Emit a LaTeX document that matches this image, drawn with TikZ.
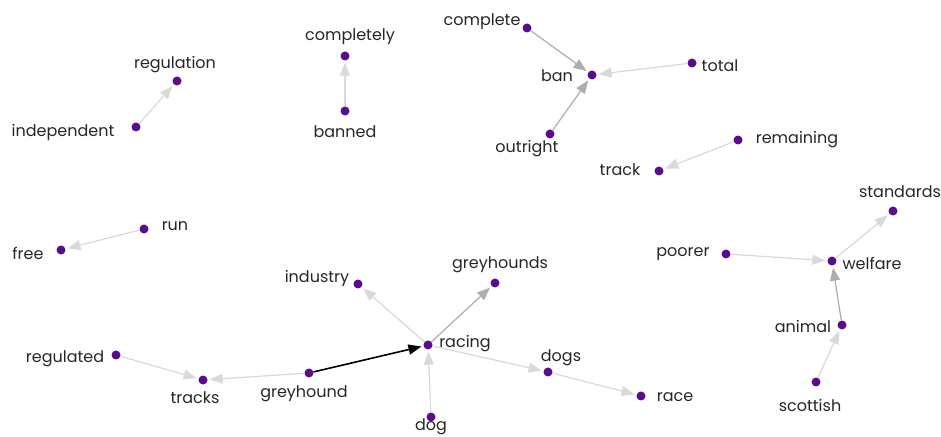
\documentclass[tikz,border=0pt]{standalone}
\usepackage{fontspec}
\setmainfont{Poppins}
\usepackage{tikz}
\usetikzlibrary{arrows.meta}
\definecolor{dotpurple}{HTML}{5A0C8A}

\begin{document}
\begin{tikzpicture}
  [
    x = 1bp, y = -1bp,
    dot/.style = {circle, fill = dotpurple, inner sep = 0pt, minimum size = 9bp},
    word/.style = {inner sep = 0pt, yshift = -2bp, font = \fontsize{16bp}{18bp}\selectfont, text = black!85},
    edge/.style = {-{Triangle[length = 13bp, width = 10bp]}, line width = 1.2bp, shorten > = 2bp},
    faint/.style = {edge, draw = black!15, fill = black!15},
    mid/.style = {edge, draw = black!32, fill = black!32},
    strong/.style = {edge, draw = black, line width = 1.6bp}
  ]
  \useasboundingbox (0,0) rectangle (941,437);
  % words: dot first, then its text
  \node[dot] (regulation) at (177,81) {};   \node[word] (regulationT) at (175,63) {regulation};
  \node[dot] (independent) at (136,127) {}; \node[word] (independentT) at (63,130) {independent};
  \node[dot] (completely) at (345,56) {};   \node[word] (completelyT) at (350,35) {completely};
  \node[dot] (banned) at (345,111) {};      \node[word] (bannedT) at (345,130) {banned};
  \node[dot] (complete) at (527,28) {};     \node[word] (completeT) at (482,20) {complete};
  \node[dot] (ban) at (592,75) {};          \node[word] (banT) at (557,74) {ban};
  \node[dot] (total) at (692,63) {};        \node[word] (totalT) at (720,64) {total};
  \node[dot] (outright) at (550,134) {};    \node[word] (outrightT) at (527,147) {outright};
  \node[dot] (remaining) at (738,140) {};   \node[word] (remainingT) at (797,138) {remaining};
  \node[dot] (track) at (659,171) {};       \node[word] (trackT) at (620,168) {track};
  \node[dot] (standards) at (893,211) {};   \node[word] (standardsT) at (900,190) {standards};
  \node[dot] (run) at (144,229) {};         \node[word] (runT) at (175,224) {run};
  \node[dot] (free) at (61,250) {};         \node[word] (freeT) at (28,251) {free};
  \node[dot] (industry) at (358,284) {};    \node[word] (industryT) at (317,276) {industry};
  \node[dot] (greyhounds) at (495,283) {};  \node[word] (greyhoundsT) at (500,263) {greyhounds};
  \node[dot] (poorer) at (726,254) {};      \node[word] (poorerT) at (683,252) {poorer};
  \node[dot] (welfare) at (832,261) {};     \node[word] (welfareT) at (872,261) {welfare};
  \node[dot] (racing) at (428,345) {};      \node[word] (racingT) at (465,342) {racing};
  \node[dot] (regulated) at (116,355) {};   \node[word] (regulatedT) at (65,357) {regulated};
  \node[dot] (tracks) at (203,380) {};      \node[word] (tracksT) at (195,396) {tracks};
  \node[dot] (greyhound) at (309,373) {};   \node[word] (greyhoundT) at (304,392) {greyhound};
  \node[dot] (dogs) at (548,372) {};        \node[word] (dogsT) at (561,356) {dogs};
  \node[dot] (race) at (641,396) {};        \node[word] (raceT) at (675,395) {race};
  \node[dot] (dog) at (431,417) {};         \node[word] (dogT) at (431,425) {dog};
  \node[dot] (animal) at (842,325) {};      \node[word] (animalT) at (803,324) {animal};
  \node[dot] (scottish) at (816,382) {};    \node[word] (scottishT) at (810,403) {scottish};
  % bigram links
  \draw[faint] (independent) -- (regulation);
  \draw[faint] (banned) -- (completely);
  \draw[mid] (complete) -- (ban);
  \draw[faint] (total) -- (ban);
  \draw[mid] (outright) -- (ban);
  \draw[faint] (remaining) -- (track);
  \draw[faint] (run) -- (free);
  \draw[faint] (racing) -- (industry);
  \draw[mid] (racing) -- (greyhounds);
  \draw[faint] (regulated) -- (tracks);
  \draw[faint] (greyhound) -- (tracks);
  \draw[strong] (greyhound) -- (racing);
  \draw[faint] (racing) -- (dogs);
  \draw[faint] (dogs) -- (race);
  \draw[faint] (dog) -- (racing);
  \draw[faint] (poorer) -- (welfare);
  \draw[faint] (welfare) -- (standards);
  \draw[mid] (animal) -- (welfare);
  \draw[faint] (scottish) -- (animal);
\end{tikzpicture}
\end{document}
